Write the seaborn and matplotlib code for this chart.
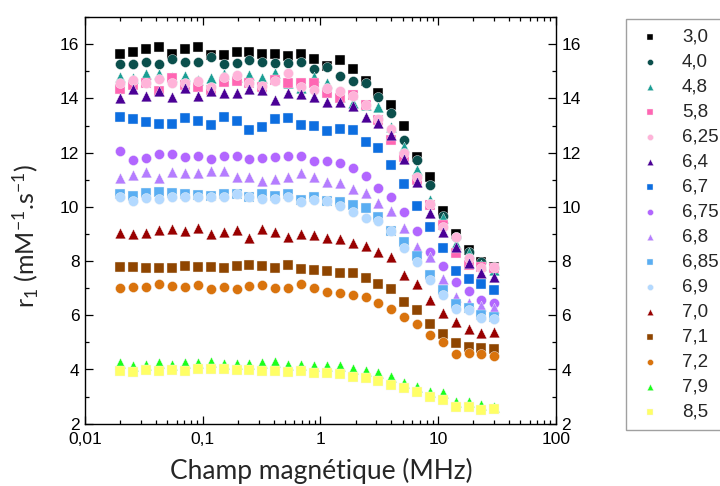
import numpy as np
import pandas as pd
import matplotlib
matplotlib.use("Agg")
import matplotlib.pyplot as plt
import seaborn as sns

# Frequencies (MHz)
freq = [0.0200, 0.0257, 0.0331, 0.0426, 0.0549, 0.0706, 0.0909, 0.117, 0.151, 0.194,
        0.249, 0.321, 0.413, 0.532, 0.684, 0.881, 1.13, 1.46, 1.88, 2.42,
        3.11, 4.00, 5.15, 6.63, 8.53, 11.0, 14.1, 18.2, 23.4, 30.1]

labels = ["3,0", "4,0", "4,8", "5,8", "6,25", "6,4", "6,7", "6,75",
          "6,8", "6,85", "6,9", "7,0", "7,1", "7,2", "7,9", "8,5"]

r_30 = [15.65, 15.70, 15.81, 15.89, 15.65, 15.81, 15.91, 15.62, 15.60, 15.70, 15.73, 15.65, 15.65, 15.57, 15.64,
        15.47, 15.20, 15.42, 15.10, 14.65, 14.21, 13.75, 12.98, 11.85, 11.09, 9.86, 8.99, 8.40, 7.96, 7.79]
r_40 = [15.26, 15.26, 15.34, 15.26, 15.45, 15.34, 15.34, 15.54, 15.26, 15.31, 15.42, 15.36, 15.31, 15.31, 15.35,
        15.08, 15.15, 14.83, 14.66, 14.56, 14.07, 13.45, 12.48, 11.73, 10.80, 9.68, 8.90, 8.35, 7.97, 7.75]
r_48 = [14.81, 14.75, 14.89, 14.89, 14.81, 14.83, 14.70, 14.77, 14.89, 14.80, 14.87, 14.74, 14.93, 14.56, 14.38,
        14.81, 14.56, 14.07, 13.82, 13.76, 13.70, 12.95, 12.22, 11.38, 10.27, 9.58, 8.63, 8.29, 7.86, 7.67]
r_58 = [14.35, 14.50, 14.56, 14.29, 14.74, 14.50, 14.44, 14.31, 14.60, 14.65, 14.56, 14.44, 14.68, 14.58, 14.58,
        14.58, 14.19, 14.01, 14.13, 13.76, 13.21, 12.47, 11.85, 10.99, 10.07, 9.33, 8.30, 7.86, 7.78, 7.75]
r_625 = [14.58, 14.68, 14.56, 14.72, 14.58, 14.56, 14.65, 14.44, 14.81, 14.87, 14.58, 14.46, 14.65, 14.95, 14.44,
         14.31, 14.40, 14.29, 14.09, 13.76, 13.23, 12.89, 12.00, 11.11, 10.10, 9.27, 8.90, 8.10, 7.76, 7.79]
r_64 = [14.03, 14.34, 14.09, 14.29, 14.04, 14.40, 14.09, 14.28, 14.21, 14.21, 14.34, 14.31, 13.94, 14.19, 14.15,
        14.04, 13.88, 13.88, 13.72, 13.33, 13.08, 12.65, 11.76, 10.93, 9.78, 9.08, 8.53, 7.92, 7.57, 7.40]
r_67 = [13.33, 13.24, 13.13, 13.06, 13.05, 13.27, 13.17, 13.02, 13.32, 13.18, 12.84, 12.95, 13.26, 13.27, 13.02,
        12.99, 12.81, 12.86, 12.84, 12.41, 12.16, 11.55, 10.83, 10.02, 9.25, 8.50, 7.65, 7.34, 7.14, 6.93]
r_675 = [12.07, 11.73, 11.82, 11.95, 11.95, 11.85, 11.88, 11.78, 11.88, 11.88, 11.76, 11.82, 11.85, 11.88, 11.89,
         11.69, 11.70, 11.63, 11.42, 11.15, 10.69, 10.38, 9.82, 9.11, 8.35, 7.83, 7.23, 6.90, 6.56, 6.47]
r_68 = [11.06, 11.18, 11.30, 11.06, 11.30, 11.26, 11.26, 11.33, 11.34, 11.09, 11.11, 10.96, 11.02, 11.11, 11.24,
        11.11, 10.91, 10.87, 10.65, 10.50, 10.16, 9.86, 9.21, 8.51, 8.16, 7.35, 6.69, 6.44, 6.34, 6.26]
r_685 = [10.47, 10.42, 10.53, 10.56, 10.50, 10.48, 10.45, 10.42, 10.48, 10.48, 10.38, 10.48, 10.42, 10.48, 10.25,
         10.35, 10.22, 10.19, 10.07, 9.95, 9.64, 9.12, 8.72, 8.19, 7.49, 6.93, 6.40, 6.28, 6.00, 5.95]
r_69 = [10.35, 10.23, 10.32, 10.29, 10.38, 10.38, 10.35, 10.35, 10.38, 10.48, 10.35, 10.29, 10.29, 10.38, 10.19,
        10.25, 10.22, 10.03, 9.82, 9.58, 9.49, 9.10, 8.47, 7.98, 7.30, 6.75, 6.25, 6.18, 5.90, 5.88]
r_70 = [9.03, 8.99, 9.03, 9.15, 9.18, 9.11, 9.21, 9.01, 9.06, 9.15, 8.86, 9.18, 9.08, 8.90, 9.00,
        8.95, 8.86, 8.82, 8.66, 8.56, 8.35, 8.16, 7.49, 7.15, 6.56, 6.10, 5.74, 5.48, 5.34, 5.37]
r_71 = [7.79, 7.78, 7.74, 7.76, 7.76, 7.83, 7.79, 7.78, 7.76, 7.81, 7.87, 7.81, 7.76, 7.84, 7.71,
        7.66, 7.65, 7.57, 7.55, 7.37, 7.15, 6.96, 6.48, 6.20, 5.68, 5.30, 4.99, 4.84, 4.78, 4.76]
r_72 = [7.00, 7.06, 7.06, 7.16, 7.07, 7.04, 7.11, 6.98, 7.04, 6.96, 7.09, 7.13, 7.01, 7.02, 7.14,
        7.01, 6.87, 6.81, 6.75, 6.68, 6.46, 6.24, 5.93, 5.67, 5.27, 5.00, 4.57, 4.60, 4.56, 4.51]
r_79 = [4.23, 4.14, 4.17, 4.23, 4.18, 4.23, 4.25, 4.27, 4.20, 4.21, 4.19, 4.23, 4.27, 4.15, 4.17,
        4.14, 4.13, 4.13, 4.01, 3.96, 3.86, 3.73, 3.51, 3.37, 3.18, 3.12, 2.81, 2.79, 2.68, 2.63]
r_85 = [3.96, 3.92, 3.98, 3.96, 3.98, 3.96, 4.01, 4.01, 4.02, 3.98, 3.98, 3.93, 3.96, 3.92, 3.96,
        3.86, 3.86, 3.83, 3.73, 3.67, 3.59, 3.43, 3.33, 3.18, 2.99, 2.87, 2.60, 2.60, 2.51, 2.53]

series = [r_30, r_40, r_48, r_58, r_625, r_64, r_67, r_675,
          r_68, r_685, r_69, r_70, r_71, r_72, r_79, r_85]

colors = ["#000000", "#0b4f4c", "#1a9e94", "#ff66b3", "#ffb3d9", "#4b0096", "#0d6ee0", "#b266ff",
          "#b57dff", "#5aaef2", "#b3d9ff", "#990000", "#8f4500", "#d9730d", "#1aff1a", "#ffff66"]
markers = ["s", "o", "^", "s", "o", "^", "s", "o", "^", "s", "o", "^", "s", "o", "^", "s"]
msize = {"s": 46, "o": 52, "^": 60}

sns.set_style("white")
plt.rcParams["font.family"] = ["Liberation Sans", "DejaVu Sans"]
plt.rcParams["mathtext.fontset"] = "custom"
plt.rcParams["mathtext.rm"] = "Lato"
plt.rcParams["mathtext.it"] = "Lato:italic"
plt.rcParams["mathtext.bf"] = "Lato:bold"

fig = plt.figure(figsize=(7.2, 4.86), dpi=100)
ax = fig.add_axes([85 / 720, 1 - 423.7 / 486, (555.7 - 85) / 720, (423.7 - 17.2) / 486])

for lab, vals, c, m in zip(labels, series, colors, markers):
    d = pd.DataFrame({"freq": freq, "r1": vals})
    sns.scatterplot(data=d, x="freq", y="r1", color=c, marker=m, s=msize[m],
                    linewidth=0.3, edgecolor="#f4f4f4", ax=ax, label=lab)

ax.set_xscale("log")
ax.set_xlim(0.01, 100)
ax.set_ylim(2, 17)
ax.set_xticks([0.01, 0.1, 1, 10, 100])
ax.set_xticklabels(["0,01", "0,1", "1", "10", "100"])
ax.xaxis.set_minor_locator(matplotlib.ticker.LogLocator(base=10, subs=np.arange(2, 10), numticks=20))
ax.xaxis.set_minor_formatter(matplotlib.ticker.NullFormatter())
ax.set_yticks([2, 4, 6, 8, 10, 12, 14, 16])
ax.yaxis.set_minor_locator(matplotlib.ticker.MultipleLocator(1))

for s in ax.spines.values():
    s.set_visible(True)
    s.set_linewidth(1.0)
    s.set_color("black")

ax.tick_params(which="both", direction="in", top=True, right=True, bottom=True, left=True,
               labelright=True, labelsize=12.5, colors="black", width=0.9)
ax.tick_params(which="major", length=6)
ax.tick_params(which="minor", length=3)
ax.tick_params(axis="y", pad=4)
ax.tick_params(axis="x", pad=6)

ax.set_xlabel("")
ax.set_ylabel("")
fig.text(321 / 720, 1 - 471 / 486, "Champ magnétique (MHz)", ha="center", va="center",
         fontsize=19, family=["Lato", "DejaVu Sans"])
fig.text(26 / 720, 1 - 236 / 486, r"r$_1$ (mM$^{-1}$.s$^{-1}$)", ha="center", va="center",
         rotation=90, fontsize=18, family=["Lato", "DejaVu Sans"])

handles, labs = ax.get_legend_handles_labels()
if ax.get_legend() is not None:
    ax.get_legend().remove()
leg = fig.legend(handles, labs, loc="upper left", bbox_to_anchor=(625.7 / 720, 1 - 19 / 486),
                 bbox_transform=fig.transFigure, borderaxespad=0, fontsize=13.5,
                 frameon=True, fancybox=False, edgecolor="#888888", markerscale=0.6,
                 labelspacing=0.42, handletextpad=0.9, borderpad=0.5, handlelength=1.6)
leg.get_frame().set_linewidth(1.0)

fig.savefig("out.png", dpi=100)
